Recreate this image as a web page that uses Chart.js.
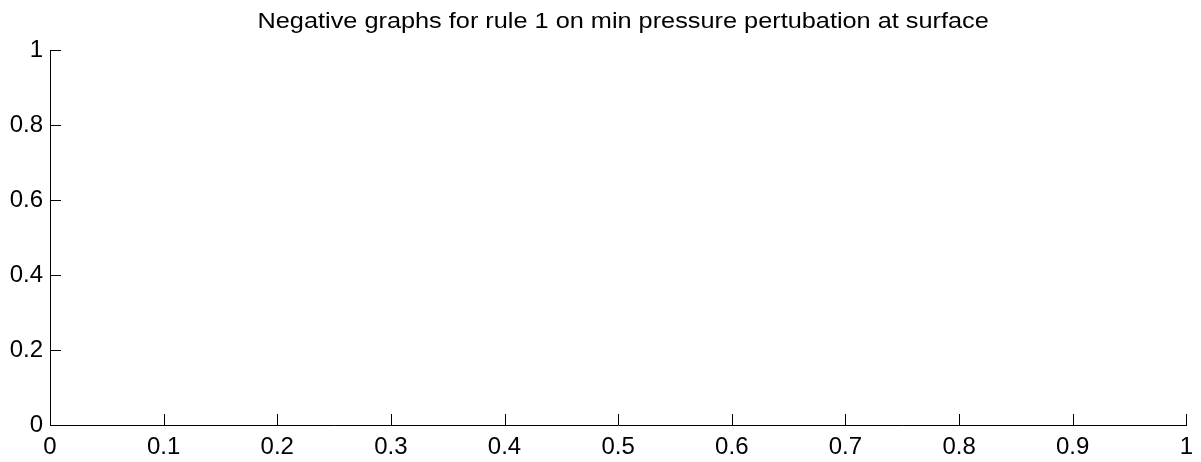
<!DOCTYPE html>
<html>
<head>
<meta charset="utf-8">
<script src="https://cdn.jsdelivr.net/npm/chart.js@4/dist/chart.umd.min.js"></script>
<style>
  html, body { margin: 0; padding: 0; background: #fff; }
</style>
</head>
<body>
<canvas id="grafico" width="1201" height="462"></canvas>
<script>
var titulo = 'Negative graphs for rule 1 on min pressure pertubation at surface';
var xTicks = [0, 0.1, 0.2, 0.3, 0.4, 0.5, 0.6, 0.7, 0.8, 0.9, 1];
var yTicks = [0, 0.2, 0.4, 0.6, 0.8, 1];
var pontos = []; // the reference plot is empty

// MATLAB style ticks pointing into the plot
var ticksInternos = {
  id: 'ticksInternos',
  afterDraw: function (chart) {
    var ctx = chart.ctx;
    var area = chart.chartArea;
    var sx = chart.scales.x;
    var sy = chart.scales.y;
    ctx.save();
    ctx.strokeStyle = '#000';
    ctx.lineWidth = 1;
    ctx.beginPath();
    xTicks.forEach(function (v) {
      var px = Math.round(sx.getPixelForValue(v)) + 0.5;
      ctx.moveTo(px, area.bottom);
      ctx.lineTo(px, area.bottom - 11);
    });
    yTicks.forEach(function (v) {
      var py = Math.round(sy.getPixelForValue(v)) + 0.5;
      ctx.moveTo(area.left, py);
      ctx.lineTo(area.left + 11, py);
    });
    ctx.stroke();

    // title, the original text is a little stretched sideways
    ctx.fillStyle = '#000';
    ctx.font = '22px "Liberation Sans"';
    ctx.textAlign = 'center';
    ctx.textBaseline = 'alphabetic';
    ctx.translate((area.left + area.right) / 2 + 5, 28);
    ctx.scale(1.15, 1);
    ctx.fillText(titulo, 0, 0);
    ctx.restore();
  }
};

var ctx = document.getElementById('grafico').getContext('2d');
var meuGrafico = new Chart(ctx, {
  type: 'scatter',
  data: {
    datasets: [{
      data: pontos,
      borderColor: '#0000ff',
      backgroundColor: '#0000ff'
    }]
  },
  options: {
    responsive: false,
    animation: false,
    devicePixelRatio: 1,
    layout: { padding: { left: 0, right: 13, top: 50, bottom: 0 } },
    plugins: {
      legend: { display: false },
      tooltip: { enabled: false },
      title: { display: false }
    },
    scales: {
      x: {
        type: 'linear',
        min: 0,
        max: 1,
        afterBuildTicks: function (scale) {
          scale.ticks = xTicks.map(function (v) { return { value: v }; });
        },
        afterFit: function (scale) { scale.height = 37; },
        grid: { display: false, drawTicks: false },
        border: { display: true, color: '#000', width: 1 },
        ticks: {
          color: '#000',
          padding: 8,
          maxRotation: 0,
          autoSkip: false,
          font: { family: 'Liberation Sans', size: 24 },
          callback: function (v) { return String(v); }
        }
      },
      y: {
        type: 'linear',
        min: 0,
        max: 1,
        afterBuildTicks: function (scale) {
          scale.ticks = yTicks.map(function (v) { return { value: v }; });
        },
        afterFit: function (scale) { scale.width = 50; },
        grid: { display: false, drawTicks: false },
        border: { display: true, color: '#000', width: 1 },
        ticks: {
          color: '#000',
          padding: 7,
          autoSkip: false,
          font: { family: 'Liberation Sans', size: 24 },
          callback: function (v) { return String(v); }
        }
      }
    }
  },
  plugins: [ticksInternos]
});
</script>
</body>
</html>
